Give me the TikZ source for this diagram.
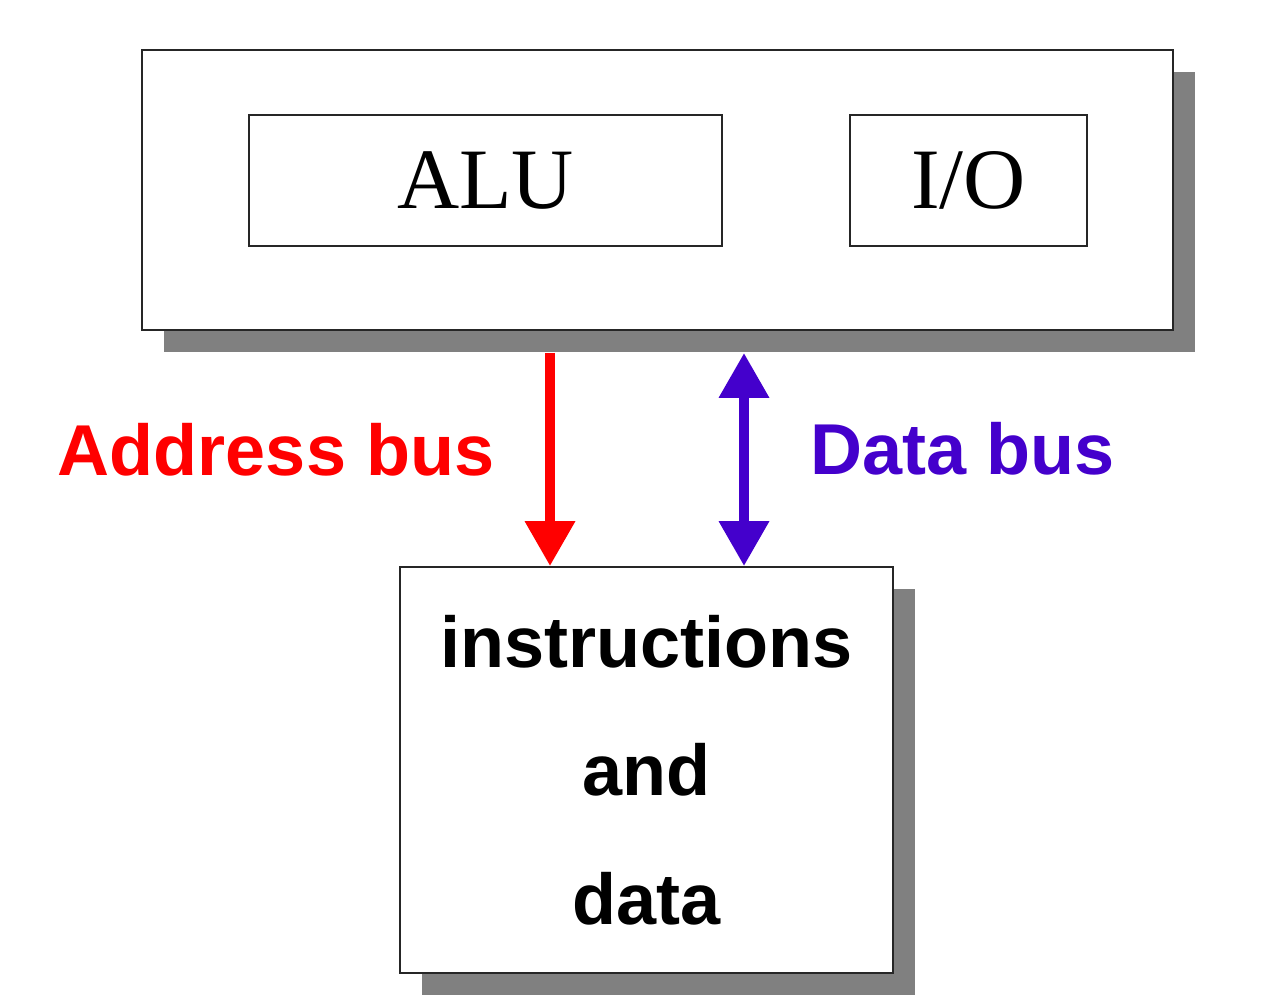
\documentclass[tikz,border=0pt]{standalone}
\usepackage{fontspec}
\setmainfont{Liberation Serif}
\newfontfamily\arialfont{Liberation Sans}
\usetikzlibrary{arrows.meta,shadows}
\definecolor{busred}{RGB}{255,0,0}
\definecolor{buspurple}{RGB}{68,0,204}

\begin{document}
\begin{tikzpicture}[x=0.02cm, y=-0.02cm,
    box/.style={draw=black!85, line width=1.1pt, fill=white},
    shadowbox/.style={box, drop shadow={shadow xshift=0.44cm, shadow yshift=-0.44cm, fill=black!50, opacity=1}},
    unitbox/.style={box, font=\fontsize{49}{49}\selectfont, text height=32pt, text depth=0pt},
    bus/.style={line width=5.7pt},
    bustip/.tip={Triangle[width=0.96cm, length=0.9cm]},
    buslabel/.style={font=\arialfont\bfseries\fontsize{41}{41}\selectfont, anchor=base}]
    \useasboundingbox (0,0) rectangle (1270,1000);

    % 1. Processor with ALU and I/O
    \node[shadowbox, minimum width=20.62cm, minimum height=5.6cm] (cpu) at (657.5,190) {};
    \node[unitbox, minimum width=9.46cm, minimum height=2.62cm] (alu) at (485.5,180.5) {ALU};
    \node[unitbox, minimum width=4.74cm, minimum height=2.62cm] (io) at (968.5,180.5) {I/O};

    % 2. Memory
    \node[shadowbox, minimum width=9.86cm, minimum height=8.12cm, align=center,
          font=\arialfont\bfseries\fontsize{41}{73}\selectfont] (mem) at (646.5,770)
        {instructions\\and\\data};

    % 3. Buses
    \coordinate (abus) at (550,0);
    \coordinate (dbus) at (744,0);
    \draw[bus, busred, -bustip] ([yshift=-0.44cm]cpu.south -| abus) -- (mem.north -| abus);
    \draw[bus, buspurple, bustip-bustip] ([yshift=-0.44cm]cpu.south -| dbus) -- (mem.north -| dbus);

    % Labels
    \node[buslabel, text=busred] (addrlabel) at (276,475) {Address bus};
    \node[buslabel, text=buspurple] (datalabel) at (963,474) {Data bus};
\end{tikzpicture}
\end{document}
